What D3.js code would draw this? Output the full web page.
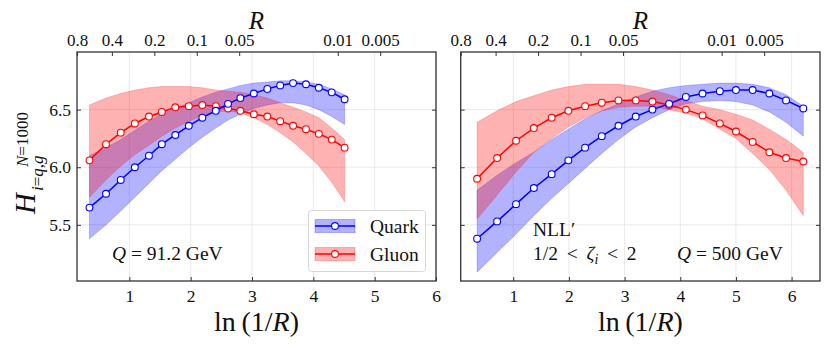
<!DOCTYPE html>
<html>
<head>
<meta charset="utf-8">
<script src="https://cdn.jsdelivr.net/npm/d3@7"></script>
<style>
  body { margin: 0; background: #fff; }
  svg { display: block; }
  text { font-family: "Liberation Serif", "DejaVu Serif", serif; fill: #111; }
</style>
</head>
<body>
<div id="chart"></div>
<script>
// ln(1/R) positions of the points
const xLeft = [0.35, 0.62, 0.86, 1.09, 1.32, 1.53, 1.75, 1.97, 2.19, 2.41, 2.61, 2.81, 3.03, 3.25, 3.46, 3.67, 3.88, 4.09, 4.30, 4.51];
const xRight = [0.35, 0.71, 1.05, 1.37, 1.69, 1.99, 2.29, 2.59, 2.89, 3.20, 3.50, 3.80, 4.10, 4.40, 4.71, 5.00, 5.30, 5.60, 5.90, 6.21];

// Q = 91.2 GeV
const quarkLeft   = [5.65, 5.77, 5.89, 6.00, 6.10, 6.20, 6.28, 6.36, 6.43, 6.49, 6.55, 6.60, 6.64, 6.68, 6.71, 6.73, 6.72, 6.69, 6.65, 6.59];
const quarkLeftLo = [5.38, 5.50, 5.62, 5.74, 5.86, 5.97, 6.07, 6.17, 6.26, 6.34, 6.41, 6.46, 6.51, 6.54, 6.56, 6.56, 6.54, 6.50, 6.44, 6.37];
const quarkLeftHi = [6.10, 6.17, 6.24, 6.32, 6.40, 6.46, 6.51, 6.56, 6.61, 6.65, 6.68, 6.71, 6.73, 6.74, 6.75, 6.75, 6.74, 6.72, 6.68, 6.63];
const gluonLeft   = [6.06, 6.20, 6.30, 6.38, 6.44, 6.48, 6.52, 6.53, 6.54, 6.53, 6.51, 6.49, 6.46, 6.44, 6.40, 6.36, 6.33, 6.29, 6.24, 6.17];
const gluonLeftLo = [5.74, 5.89, 6.01, 6.11, 6.19, 6.27, 6.34, 6.40, 6.45, 6.48, 6.49, 6.47, 6.43, 6.37, 6.30, 6.22, 6.12, 6.01, 5.87, 5.70];
const gluonLeftHi = [6.54, 6.60, 6.64, 6.67, 6.69, 6.70, 6.70, 6.70, 6.69, 6.67, 6.66, 6.65, 6.63, 6.60, 6.56, 6.52, 6.48, 6.43, 6.34, 6.24];

// Q = 500 GeV
const quarkRight   = [5.38, 5.53, 5.68, 5.82, 5.94, 6.06, 6.17, 6.27, 6.36, 6.44, 6.50, 6.55, 6.61, 6.64, 6.66, 6.67, 6.67, 6.64, 6.58, 6.51];
const quarkRightLo = [5.09, 5.26, 5.42, 5.58, 5.73, 5.86, 5.99, 6.12, 6.24, 6.35, 6.43, 6.50, 6.55, 6.57, 6.58, 6.57, 6.54, 6.48, 6.39, 6.27];
const quarkRightHi = [5.80, 5.93, 6.04, 6.13, 6.24, 6.33, 6.42, 6.49, 6.55, 6.61, 6.66, 6.69, 6.71, 6.72, 6.73, 6.73, 6.72, 6.69, 6.63, 6.53];
const gluonRight   = [5.90, 6.08, 6.23, 6.34, 6.43, 6.49, 6.53, 6.56, 6.58, 6.58, 6.57, 6.54, 6.50, 6.45, 6.38, 6.31, 6.22, 6.13, 6.08, 6.05];
const gluonRightLo = [5.55, 5.76, 5.96, 6.13, 6.25, 6.35, 6.43, 6.49, 6.52, 6.53, 6.53, 6.50, 6.47, 6.42, 6.33, 6.25, 6.12, 5.98, 5.80, 5.58];
const gluonRightHi = [6.39, 6.49, 6.57, 6.62, 6.67, 6.70, 6.72, 6.72, 6.72, 6.70, 6.67, 6.63, 6.58, 6.53, 6.50, 6.46, 6.41, 6.33, 6.24, 6.13];

const xTicks = [1, 2, 3, 4, 5, 6];
const yTicks = [5.5, 6.0, 6.5];
const rTicks = [0.707, 0.4, 0.2, 0.1, 0.05, 0.01, 0.005];
const rTickLabels = ['0.8', '0.4', '0.2', '0.1', '0.05', '0.01', '0.005'];
const seriesNames = ['Quark', 'Gluon'];

const W = 830, H = 346;
const plotTop = 52, plotBottom = 281;
const blue = '#0000ff', red = '#ff0000';

const svg = d3.select('#chart').append('svg')
    .attr('width', W)
    .attr('height', H)
    .attr('viewBox', [0, 0, W, H]);

svg.append('rect').attr('width', W).attr('height', H).attr('fill', '#fff');

const y = d3.scaleLinear().domain([5.013, 7.0]).range([plotBottom, plotTop]);

const panels = [
    {
        x0: 77, x1: 436, xDomain: [0.147, 6.0], xs: xLeft,
        quark: [quarkLeft, quarkLeftLo, quarkLeftHi],
        gluon: [gluonLeft, gluonLeftLo, gluonLeftHi],
        yLabels: true
    },
    {
        x0: 460.7, x1: 820, xDomain: [0.056, 6.51], xs: xRight,
        quark: [quarkRight, quarkRightLo, quarkRightHi],
        gluon: [gluonRight, gluonRightLo, gluonRightHi],
        yLabels: false
    }
];

panels.forEach((p, pi) => {
    const x = d3.scaleLinear().domain(p.xDomain).range([p.x0, p.x1]);
    // twin axis on top: ln(1/R) over the full R range of the scan
    const xTop = d3.scaleLinear().domain([Math.log(1 / 0.707), 6.21]).range([p.x0, p.x1]);

    const g = svg.append('g');
    const clipId = 'clip' + pi;
    g.append('clipPath').attr('id', clipId)
        .append('rect')
        .attr('x', p.x0).attr('y', plotTop)
        .attr('width', p.x1 - p.x0).attr('height', plotBottom - plotTop);

    // grid
    g.append('g').selectAll('line')
        .data(xTicks.filter(t => t >= p.xDomain[0] && t <= p.xDomain[1]))
        .join('line')
        .attr('x1', d => x(d)).attr('x2', d => x(d))
        .attr('y1', plotTop).attr('y2', plotBottom)
        .attr('stroke', '#e3e3e3').attr('stroke-width', 0.8);
    g.append('g').selectAll('line')
        .data(yTicks)
        .join('line')
        .attr('x1', p.x0).attr('x2', p.x1)
        .attr('y1', d => y(d)).attr('y2', d => y(d))
        .attr('stroke', '#e3e3e3').attr('stroke-width', 0.8);

    const plot = g.append('g').attr('clip-path', `url(#${clipId})`);

    const band = d3.area()
        .x((d, i) => x(p.xs[i]))
        .y0(d => y(d[0]))
        .y1(d => y(d[1]));
    const line = d3.line()
        .x((d, i) => x(p.xs[i]))
        .y(d => y(d));

    const series = [
        { vals: p.quark, color: blue },
        { vals: p.gluon, color: red }
    ];

    series.forEach(s => {
        const pairs = s.vals[1].map((lo, i) => [lo, s.vals[2][i]]);
        plot.append('path')
            .datum(pairs)
            .attr('d', band)
            .attr('fill', s.color)
            .attr('fill-opacity', 0.3)
            .attr('stroke', s.color)
            .attr('stroke-opacity', 0.25)
            .attr('stroke-width', 0.8);
    });

    // gluon first, quark on top
    [series[1], series[0]].forEach(s => {
        plot.append('path')
            .datum(s.vals[0])
            .attr('d', line)
            .attr('fill', 'none')
            .attr('stroke', s.color)
            .attr('stroke-width', 1.5);
        plot.append('g').selectAll('circle')
            .data(s.vals[0])
            .join('circle')
            .attr('cx', (d, i) => x(p.xs[i]))
            .attr('cy', d => y(d))
            .attr('r', 3.4)
            .attr('fill', '#fff')
            .attr('stroke', s.color)
            .attr('stroke-width', 1.1);
    });

    // frame
    g.append('rect')
        .attr('x', p.x0).attr('y', plotTop)
        .attr('width', p.x1 - p.x0).attr('height', plotBottom - plotTop)
        .attr('fill', 'none')
        .attr('stroke', '#333')
        .attr('stroke-width', 1.3);

    // bottom axis, ticks pointing in
    const xAxis = d3.axisBottom(x).tickValues(xTicks.filter(t => t <= p.xDomain[1])).tickSize(-4).tickPadding(8)
        .tickFormat(d3.format('d'));
    const gx = g.append('g').attr('transform', `translate(0,${plotBottom})`).call(xAxis);
    gx.select('.domain').remove();
    gx.selectAll('line').attr('stroke', '#333');
    gx.selectAll('text').attr('font-size', 17.5).attr('dy', '0.75em')
        .style('font-family', '"Liberation Serif", serif').attr('fill', '#111');

    // top axis in R
    const topAxis = d3.axisTop(xTop)
        .tickValues(rTicks.map(r => Math.log(1 / r)))
        .tickSize(-4).tickPadding(6)
        .tickFormat((d, i) => rTickLabels[i]);
    const gt = g.append('g').attr('transform', `translate(0,${plotTop})`).call(topAxis);
    gt.select('.domain').remove();
    gt.selectAll('line').attr('stroke', '#333');
    gt.selectAll('text').attr('font-size', 17)
        .style('font-family', '"Liberation Serif", serif').attr('fill', '#111');

    // left/right ticks
    const yAxisL = d3.axisLeft(y).tickValues(yTicks).tickSize(-4).tickPadding(6)
        .tickFormat(d3.format('.1f'));
    const gy = g.append('g').attr('transform', `translate(${p.x0},0)`).call(yAxisL);
    gy.select('.domain').remove();
    gy.selectAll('line').attr('stroke', '#333');
    gy.selectAll('text').attr('font-size', 17.5)
        .style('font-family', '"Liberation Serif", serif').attr('fill', '#111')
        .style('display', p.yLabels ? null : 'none');
    const gyr = g.append('g').attr('transform', `translate(${p.x1},0)`)
        .call(d3.axisRight(y).tickValues(yTicks).tickSize(-4).tickFormat(''));
    gyr.select('.domain').remove();
    gyr.selectAll('line').attr('stroke', '#333');

    // axis titles
    const cx = (p.x0 + p.x1) / 2;
    g.append('text')
        .attr('x', cx).attr('y', 29)
        .attr('text-anchor', 'middle')
        .attr('font-size', 25)
        .attr('font-style', 'italic')
        .text('R');

    const xl = g.append('text')
        .attr('x', cx).attr('y', 331)
        .attr('text-anchor', 'middle')
        .attr('font-size', 28);
    xl.append('tspan').text('ln\u2009(1/');
    xl.append('tspan').attr('font-style', 'italic').text('R');
    xl.append('tspan').text(')');
});

// y label: H_{i=q,g}^{N=1000}
const yl = svg.append('g').attr('transform', 'translate(35,214) rotate(-90)');
yl.append('text').attr('x', 0).attr('y', 0)
    .attr('font-size', 29).attr('font-style', 'italic').text('H');
const sup = yl.append('text').attr('x', 47).attr('y', -7).attr('font-size', 17);
sup.append('tspan').attr('font-style', 'italic').text('N');
sup.append('tspan').text('=1000');
const sub = yl.append('text').attr('x', 23).attr('y', 8).attr('font-size', 17).attr('font-style', 'italic');
sub.append('tspan').text('i');
sub.append('tspan').attr('font-style', 'normal').text('=');
sub.append('tspan').text('q');
sub.append('tspan').attr('font-style', 'normal').text(',');
sub.append('tspan').text('g');

// legend in the left panel
const leg = svg.append('g');
leg.append('rect')
    .attr('x', 308.5).attr('y', 210.5).attr('width', 117).attr('height', 61)
    .attr('rx', 3)
    .attr('fill', '#fff').attr('fill-opacity', 0.85)
    .attr('stroke', '#d6d6d6');
seriesNames.forEach((name, i) => {
    const c = i === 0 ? blue : red;
    const cy = 226 + i * 28;
    leg.append('rect')
        .attr('x', 315).attr('y', cy - 6.5).attr('width', 40).attr('height', 13)
        .attr('fill', c).attr('fill-opacity', 0.3)
        .attr('stroke', c).attr('stroke-opacity', 0.25);
    leg.append('line')
        .attr('x1', 315).attr('x2', 355).attr('y1', cy).attr('y2', cy)
        .attr('stroke', c).attr('stroke-width', 1.5);
    leg.append('circle')
        .attr('cx', 335).attr('cy', cy).attr('r', 3.4)
        .attr('fill', '#fff').attr('stroke', c).attr('stroke-width', 1.1);
    leg.append('text')
        .attr('x', 370).attr('y', cy + 6.5)
        .attr('font-size', 19.5)
        .text(name);
});

// annotations
const t1 = svg.append('text').attr('x', 112).attr('y', 260).attr('font-size', 19.5);
t1.append('tspan').attr('font-style', 'italic').text('Q');
t1.append('tspan').text(' = 91.2 GeV');

const t2 = svg.append('text').attr('x', 677).attr('y', 260).attr('font-size', 19.5);
t2.append('tspan').attr('font-style', 'italic').text('Q');
t2.append('tspan').text(' = 500 GeV');

svg.append('text').attr('x', 533).attr('y', 236).attr('font-size', 19.5).text('NLL′');
const t3 = svg.append('text').attr('x', 533).attr('y', 260).attr('font-size', 19.5);
t3.append('tspan').text('1/2 \u2009<\u2009 ');
t3.append('tspan').attr('font-style', 'italic').text('ζ');
t3.append('tspan').attr('font-style', 'italic').attr('font-size', 14).attr('dy', 4).text('i');
t3.append('tspan').attr('dy', -4).text(' \u2009<\u2009 2');
</script>
</body>
</html>
